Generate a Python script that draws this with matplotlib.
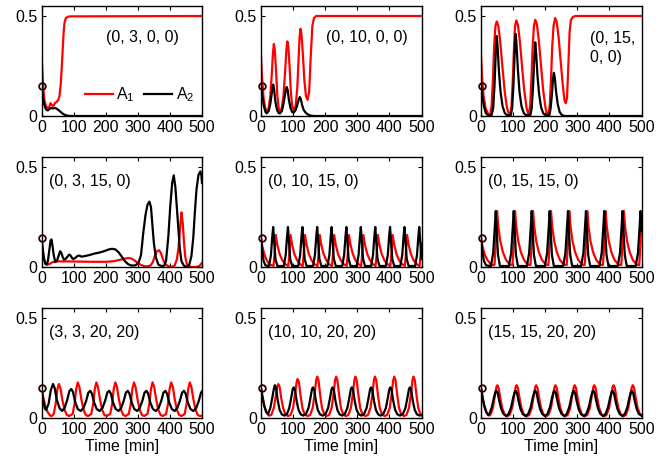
import matplotlib
matplotlib.use("Agg")
import matplotlib.pyplot as plt

plt.rcParams.update({
    "font.family": ["Liberation Sans", "DejaVu Sans"],
    "font.size": 11.5,
    "mathtext.default": "regular",
    "axes.linewidth": 1.0,
})

# ---------------- data: (time [min], value) ----------------
# panel 1: (0, 3, 0, 0)
P1_A1 = [(0, .30), (2, .25), (5, .15), (9, .08), (14, .05), (19, .04), (24, .045), (28, .064),
         (32, .055), (37, .05), (42, .065), (47, .07), (52, .08), (56, .10), (60, .16), (63, .24),
         (66, .33), (69, .42), (72, .47), (76, .49), (82, .496), (90, .498), (500, .50)]
P1_A2 = [(0, .152), (4, .10), (8, .06), (12, .04), (16, .03), (20, .028), (25, .035), (30, .04),
         (36, .038), (42, .04), (48, .036), (54, .028), (60, .02), (66, .012), (72, .006),
         (80, .002), (90, 0), (500, 0)]

# panel 2: (0, 10, 0, 0)
P2_A1 = [(0, .30), (3, .20), (8, .09), (13, .04), (18, .022), (24, .04), (29, .10), (34, .22),
         (37, .31), (40, .36), (43, .33), (47, .22), (51, .10), (55, .04), (59, .022), (65, .04),
         (70, .10), (75, .22), (79, .33), (82, .373), (85, .35), (89, .25), (93, .12), (97, .05),
         (102, .03), (108, .05), (113, .14), (117, .28), (120, .39), (123, .436), (126, .41),
         (130, .32), (135, .18), (140, .10), (145, .081), (150, .12), (155, .30), (160, .45),
         (165, .49), (172, .50), (500, .50)]
P2_A2 = [(0, .152), (4, .10), (9, .05), (14, .02), (18, .013), (24, .025), (29, .06), (34, .12),
         (38, .157), (41, .13), (45, .07), (50, .03), (55, .015), (59, .013), (65, .025), (70, .06),
         (75, .11), (80, .145), (83, .13), (87, .08), (92, .04), (97, .02), (102, .017), (108, .03),
         (113, .055), (118, .085), (121, .095), (124, .085), (128, .055), (133, .03), (140, .015),
         (147, .007), (155, .002), (165, 0), (500, 0)]

# panel 3: (0, 15, 0, 0)
P3_A1 = [(0, .30), (3, .20), (8, .10), (14, .04), (22, .01), (28, .005),
         (33, .05), (37, .18), (41, .35), (45, .45), (49, .473), (54, .45), (60, .37), (67, .24),
         (74, .12), (81, .04), (87, .01), (91, .005),
         (95, .05), (99, .18), (103, .35), (106, .45), (110, .478), (115, .455), (121, .375),
         (128, .245), (135, .125), (142, .04), (147, .01), (149, .005),
         (153, .05), (157, .18), (161, .35), (165, .45), (169, .481), (174, .46), (180, .38),
         (187, .25), (194, .125), (201, .04), (206, .01), (210, .005),
         (214, .05), (218, .18), (222, .35), (226, .45), (231, .49), (236, .47), (242, .39),
         (249, .26), (255, .15), (260, .08), (264, .064), (268, .09), (272, .25), (276, .42),
         (280, .48), (286, .495), (295, .50), (500, .50)]
P3_A2 = [(0, .152), (4, .10), (9, .05), (15, .015), (22, .003), (33, .005),
         (38, .04), (42, .15), (46, .32), (49, .40), (52, .34), (56, .22), (61, .12), (67, .05),
         (74, .015), (82, .003), (93, .005),
         (97, .04), (101, .15), (105, .32), (108, .41), (111, .35), (115, .23), (120, .12),
         (126, .05), (133, .015), (141, .003), (154, .005),
         (158, .04), (162, .14), (166, .29), (169, .368), (172, .31), (176, .20), (181, .11),
         (187, .045), (194, .013), (202, .003), (213, .005),
         (217, .04), (221, .11), (224, .18), (227, .216), (230, .19), (234, .12), (239, .06),
         (245, .02), (252, .005), (260, 0), (500, 0)]

# panel 4: (0, 3, 15, 0)
P4_A1 = [(0, .146), (3, .09), (7, .045), (12, .02), (18, .012), (25, .015), (35, .025),
         (50, .028), (80, .028), (120, .027), (160, .026), (200, .026), (225, .029), (245, .036),
         (260, .042), (271, .045), (280, .042), (290, .033), (300, .02), (310, .01), (320, .004),
         (330, .003), (340, .008), (347, .025), (353, .055), (360, .079), (366, .084), (372, .07),
         (378, .04), (385, .015), (395, .004), (405, 0), (415, .008), (422, .04), (427, .10),
         (432, .20), (436, .273), (440, .22), (444, .12), (448, .05), (453, .012), (465, 0),
         (480, 0), (492, .005), (500, .02)]
P4_A2 = [(0, .146), (4, .09), (8, .04), (12, .015), (16, .012), (20, .03), (24, .08), (28, .13),
         (31, .138), (34, .11), (38, .06), (43, .025), (48, .03), (53, .055), (58, .079), (62, .07),
         (66, .05), (70, .037), (75, .04), (80, .05), (86, .062), (90, .058), (95, .045), (99, .04),
         (105, .045), (112, .055), (118, .057), (124, .052), (130, .053), (136, .055), (150, .06),
         (165, .067), (180, .072), (195, .079), (210, .088), (220, .091), (230, .088), (240, .074),
         (250, .052), (260, .029), (270, .014), (281, .007), (292, .008), (302, .02), (310, .06),
         (317, .17), (324, .26), (330, .31), (336, .327), (341, .30), (346, .20), (350, .121),
         (356, .05), (364, .012), (375, .004), (383, .008), (388, .03), (395, .15), (401, .30),
         (407, .42), (412, .458), (417, .40), (422, .29), (426, .20), (431, .09), (436, .029),
         (443, .008), (451, 0), (460, .01), (467, .054), (473, .15), (478, .28), (483, .39),
         (489, .46), (495, .478), (498, .46), (500, .42)]

# panel 5: (0, 10, 15, 0)
P5_A1 = [(0, .146), (4, .105), (9, .07), (16, .04), (25, .015), (39, .005),
         (42, .06), (46, .16), (51, .11), (58, .065), (66, .035), (75, .015), (85, .005),
         (88, .06), (92, .16), (97, .11), (104, .065), (112, .035), (121, .015), (130, .005),
         (133, .06), (137, .16), (142, .11), (149, .065), (157, .035), (166, .015), (176, .005),
         (179, .06), (183, .16), (188, .11), (195, .065), (203, .035), (212, .015), (221, .005),
         (224, .06), (228, .16), (233, .11), (240, .065), (248, .035), (257, .015), (267, .005),
         (270, .06), (274, .16), (279, .11), (286, .065), (294, .035), (303, .015), (312, .005),
         (315, .06), (319, .16), (324, .11), (331, .065), (339, .035), (348, .015), (357, .005),
         (360, .06), (364, .16), (369, .11), (376, .065), (384, .035), (393, .015), (403, .005),
         (406, .06), (410, .16), (415, .11), (422, .065), (430, .035), (439, .015), (448, .005),
         (451, .06), (455, .16), (460, .11), (467, .065), (475, .035), (484, .015), (494, .005),
         (497, .06), (500, .12)]
P5_A2 = [(0, .146), (4, .08), (8, .03), (14, .008), (25, .005),
         (31, .06), (35, .15), (38, .20), (41, .13), (45, .04), (51, .005),
         (71, .005), (77, .06), (81, .15), (84, .20), (87, .13), (91, .04), (97, .005),
         (116, .005), (122, .06), (126, .15), (129, .20), (132, .13), (136, .04), (142, .005),
         (162, .005), (168, .06), (172, .15), (175, .20), (178, .13), (182, .04), (188, .005),
         (207, .005), (213, .06), (217, .15), (220, .20), (223, .13), (227, .04), (233, .005),
         (253, .005), (259, .06), (263, .15), (266, .20), (269, .13), (273, .04), (279, .005),
         (298, .005), (304, .06), (308, .15), (311, .20), (314, .13), (318, .04), (324, .005),
         (343, .005), (349, .06), (353, .15), (356, .20), (359, .13), (363, .04), (369, .005),
         (389, .005), (395, .06), (399, .15), (402, .20), (405, .13), (409, .04), (415, .005),
         (434, .005), (440, .06), (444, .15), (447, .20), (450, .13), (454, .04), (460, .005),
         (480, .005), (486, .06), (490, .15), (493, .20), (496, .13), (500, .04)]

# panel 6: (0, 15, 15, 0)
P6_A1 = [(0, .146), (5, .10), (12, .06), (20, .035), (30, .015), (40, .008),
         (42, .01), (46, .12), (50, .28), (54, .20), (60, .13), (68, .075), (78, .035), (90, .012),
         (98, .01), (102, .12), (106, .28), (110, .20), (116, .13), (124, .075), (134, .035), (146, .012),
         (154, .01), (158, .12), (162, .28), (166, .20), (172, .13), (180, .075), (190, .035), (202, .012),
         (210, .01), (214, .12), (218, .28), (222, .20), (228, .13), (236, .075), (246, .035), (258, .012),
         (267, .01), (271, .12), (275, .28), (279, .20), (285, .13), (293, .075), (303, .035), (315, .012),
         (323, .01), (327, .12), (331, .28), (335, .20), (341, .13), (349, .075), (359, .035), (371, .012),
         (380, .01), (384, .12), (388, .28), (392, .20), (398, .13), (406, .075), (416, .035), (428, .012),
         (437, .01), (441, .12), (445, .28), (449, .20), (455, .13), (463, .075), (473, .035), (485, .012),
         (493, .01), (497, .12), (500, .24)]
P6_A2 = [(0, .146), (4, .08), (9, .03), (16, .008), (31, .005),
         (38, .07), (43, .20), (46, .28), (49, .18), (53, .06), (59, .005),
         (87, .005), (94, .07), (99, .20), (102, .28), (105, .18), (109, .06), (115, .005),
         (143, .005), (150, .07), (155, .20), (158, .28), (161, .18), (165, .06), (171, .005),
         (199, .005), (206, .07), (211, .20), (214, .28), (217, .18), (221, .06), (227, .005),
         (256, .005), (263, .07), (268, .20), (271, .28), (274, .18), (278, .06), (284, .005),
         (312, .005), (319, .07), (324, .20), (327, .28), (330, .18), (334, .06), (340, .005),
         (369, .005), (376, .07), (381, .20), (384, .28), (387, .18), (391, .06), (397, .005),
         (426, .005), (433, .07), (438, .20), (441, .28), (444, .18), (448, .06), (454, .005),
         (482, .005), (489, .07), (494, .20), (497, .28), (500, .18)]

# panel 7: (3, 3, 20, 20)
P7_A1 = [(0, .15), (6, .10), (12, .06), (19, .03), (27, .012), (32, .01),
         (38, .02), (44, .07), (49, .14), (54, .17), (59, .15), (65, .09), (72, .04), (79, .015), (86, .01),
         (97, .02), (103, .07), (108, .145), (113, .178), (118, .155), (124, .095), (131, .04), (138, .015), (145, .01),
         (155, .02), (161, .07), (166, .145), (171, .178), (176, .155), (182, .095), (189, .04), (196, .015), (203, .01),
         (214, .02), (220, .07), (225, .145), (230, .178), (235, .155), (241, .095), (248, .04), (255, .015), (262, .01),
         (272, .02), (278, .07), (283, .145), (288, .178), (293, .155), (299, .095), (306, .04), (313, .015), (320, .01),
         (330, .02), (336, .07), (341, .145), (346, .178), (351, .155), (357, .095), (364, .04), (371, .015), (378, .01),
         (388, .02), (394, .07), (399, .145), (404, .178), (409, .155), (415, .095), (422, .04), (429, .015), (436, .01),
         (446, .02), (452, .07), (457, .145), (462, .178), (467, .155), (473, .095), (480, .04), (487, .015), (494, .01),
         (500, .012)]
P7_A2 = [(0, .15), (5, .09), (10, .05), (14, .04),
         (22, .07), (29, .14), (36, .17), (41, .15), (48, .09), (56, .05), (64, .035),
         (72, .05), (80, .09), (87, .135), (93, .145), (98, .13), (105, .08), (113, .045), (122, .035),
         (131, .05), (139, .085), (146, .127), (152, .136), (157, .122), (164, .077), (172, .045), (181, .035),
         (190, .05), (198, .085), (205, .127), (211, .136), (216, .122), (223, .077), (231, .045), (240, .035),
         (248, .05), (256, .085), (263, .127), (269, .136), (274, .122), (281, .077), (289, .045), (298, .035),
         (306, .05), (314, .085), (321, .127), (327, .136), (332, .122), (339, .077), (347, .045), (356, .035),
         (365, .05), (373, .085), (380, .127), (386, .136), (391, .122), (398, .077), (406, .045), (415, .035),
         (423, .05), (431, .085), (438, .127), (444, .136), (449, .122), (456, .077), (464, .045), (473, .035),
         (482, .05), (490, .085), (497, .127), (500, .133)]

# panel 8: (10, 10, 20, 20)
P8_A1 = [(0, .15), (5, .105), (10, .065), (17, .03), (24, .012), (32, .015),
         (40, .05), (46, .11), (51, .16), (54, .17), (58, .155), (63, .10), (69, .05), (76, .018), (84, .01),
         (92, .015), (100, .05), (106, .12), (111, .18), (114, .195), (118, .18), (123, .115), (129, .05), (136, .018), (145, .01),
         (153, .015), (161, .05), (167, .12), (172, .19), (175, .207), (179, .19), (184, .12), (190, .05), (197, .018), (204, .01),
         (212, .015), (220, .05), (226, .12), (231, .19), (234, .207), (238, .19), (243, .12), (249, .05), (256, .018), (264, .01),
         (272, .015), (280, .05), (286, .12), (291, .19), (294, .207), (298, .19), (303, .12), (309, .05), (316, .018), (325, .01),
         (333, .015), (341, .05), (347, .12), (352, .19), (355, .207), (359, .19), (364, .12), (370, .05), (377, .018), (385, .01),
         (393, .015), (401, .05), (407, .12), (412, .19), (415, .207), (419, .19), (424, .12), (430, .05), (437, .018), (445, .01),
         (453, .015), (461, .05), (467, .12), (472, .19), (475, .207), (479, .19), (484, .12), (490, .05), (497, .018), (500, .014)]
P8_A2 = [(0, .15), (5, .10), (10, .06), (16, .03), (22, .02),
         (29, .05), (35, .10), (40, .145), (43, .164), (47, .15), (52, .09), (58, .04), (65, .018), (73, .012),
         (81, .02), (88, .05), (94, .10), (99, .145), (102, .153), (106, .14), (111, .085), (117, .04), (124, .018), (132, .012),
         (140, .02), (148, .05), (154, .10), (159, .145), (162, .153), (166, .14), (171, .085), (177, .04), (184, .018), (192, .012),
         (201, .02), (209, .05), (215, .10), (220, .145), (223, .153), (227, .14), (232, .085), (238, .04), (245, .018), (253, .012),
         (261, .02), (269, .05), (275, .10), (280, .145), (283, .153), (287, .14), (292, .085), (298, .04), (305, .018), (313, .012),
         (321, .02), (329, .05), (335, .10), (340, .145), (343, .153), (347, .14), (352, .085), (358, .04), (365, .018), (373, .012),
         (381, .02), (389, .05), (395, .10), (400, .145), (403, .153), (407, .14), (412, .085), (418, .04), (425, .018), (433, .012),
         (442, .02), (450, .05), (456, .10), (461, .145), (464, .153), (468, .14), (473, .085), (479, .04), (486, .018), (494, .012),
         (500, .015)]

# panel 9: (15, 15, 20, 20)
P9_A1 = [(0, .15), (5, .105), (10, .065), (17, .03), (25, .012), (29, .015),
         (37, .05), (43, .11), (48, .155), (51, .164), (55, .15), (60, .10), (66, .05), (73, .02), (81, .008),
         (89, .015), (97, .05), (103, .11), (108, .155), (111, .164), (115, .15), (120, .10), (126, .05), (133, .02), (142, .008),
         (150, .015), (158, .05), (164, .11), (169, .155), (172, .164), (176, .15), (181, .10), (187, .05), (194, .02), (202, .008),
         (210, .015), (218, .05), (224, .11), (229, .155), (232, .164), (236, .15), (241, .10), (247, .05), (254, .02), (262, .008),
         (270, .015), (278, .05), (284, .11), (289, .155), (292, .164), (296, .15), (301, .10), (307, .05), (314, .02), (323, .008),
         (331, .015), (339, .05), (345, .11), (350, .155), (353, .164), (357, .15), (362, .10), (368, .05), (375, .02), (383, .008),
         (391, .015), (399, .05), (405, .11), (410, .155), (413, .164), (417, .15), (422, .10), (428, .05), (435, .02), (443, .008),
         (451, .015), (459, .05), (465, .11), (470, .155), (473, .164), (477, .15), (482, .10), (488, .05), (495, .02), (500, .012)]
P9_A2 = [(0, .15), (5, .10), (10, .06), (16, .03), (22, .015),
         (26, .02), (34, .055), (40, .10), (45, .13), (48, .136), (52, .125), (57, .085), (63, .045), (70, .02), (78, .01),
         (86, .02), (94, .055), (100, .10), (105, .13), (108, .136), (112, .125), (117, .085), (123, .045), (130, .02), (139, .01),
         (147, .02), (155, .055), (161, .10), (166, .13), (169, .136), (173, .125), (178, .085), (184, .045), (191, .02), (199, .01),
         (207, .02), (215, .055), (221, .10), (226, .13), (229, .136), (233, .125), (238, .085), (244, .045), (251, .02), (259, .01),
         (267, .02), (275, .055), (281, .10), (286, .13), (289, .136), (293, .125), (298, .085), (304, .045), (311, .02), (320, .01),
         (328, .02), (336, .055), (342, .10), (347, .13), (350, .136), (354, .125), (359, .085), (365, .045), (372, .02), (380, .01),
         (388, .02), (396, .055), (402, .10), (407, .13), (410, .136), (414, .125), (419, .085), (425, .045), (432, .02), (440, .01),
         (448, .02), (456, .055), (462, .10), (467, .13), (470, .136), (474, .125), (479, .085), (485, .045), (492, .02), (500, .012)]

PANEL_LABELS = ["(0, 3, 0, 0)", "(0, 10, 0, 0)", "(0, 15,\n0, 0)",
                "(0, 3, 15, 0)", "(0, 10, 15, 0)", "(0, 15, 15, 0)",
                "(3, 3, 20, 20)", "(10, 10, 20, 20)", "(15, 15, 20, 20)"]
A1_SERIES = [P1_A1, P2_A1, P3_A1, P4_A1, P5_A1, P6_A1, P7_A1, P8_A1, P9_A1]
A2_SERIES = [P1_A2, P2_A2, P3_A2, P4_A2, P5_A2, P6_A2, P7_A2, P8_A2, P9_A2]
START_VALUES = [0.152, 0.152, 0.152, 0.146, 0.146, 0.146, 0.15, 0.15, 0.15]
X_TICKS = [0, 100, 200, 300, 400, 500]
Y_TICKS = [0, 0.5]
Y_TICK_LABELS = ["0", "0.5"]

# ---------------- layout (pixel boxes measured on the 669x462 figure) ----------------
W, H = 669, 462
col_left = [41.5, 261, 481]
row_bottom = [116, 267, 418]
ax_w, ax_h = 160.5, 110

fig = plt.figure(figsize=(W / 100, H / 100), dpi=100)

label_pos = [(0.40, 0.71), (0.405, 0.71), (0.68, 0.62)] + [(0.045, 0.78)] * 6

for i in range(9):
    r, c = divmod(i, 3)
    ax = fig.add_axes([col_left[c] / W, 1 - row_bottom[r] / H, ax_w / W, ax_h / H])

    t1, v1 = zip(*A1_SERIES[i])
    t2, v2 = zip(*A2_SERIES[i])
    l1, = ax.plot(t1, v1, color="#ff0000", lw=1.6, label="$A_1$")
    l2, = ax.plot(t2, v2, color="black", lw=1.6, label="$A_2$")
    ax.plot([2], [START_VALUES[i]], marker="o", ms=4.8, mfc="none", mec="#2a0000",
            mew=1.3, clip_on=False, zorder=5)

    ax.set_xlim(0, 500)
    ax.set_ylim(0, 0.55)
    ax.set_xticks(X_TICKS)
    ax.set_yticks(Y_TICKS)
    ax.set_yticklabels(Y_TICK_LABELS)
    ax.tick_params(direction="in", length=3, top=True, right=True, labelsize=11.5, pad=3)

    lx, ly = label_pos[i]
    ax.text(lx, ly, PANEL_LABELS[i], transform=ax.transAxes, fontsize=11.5,
            ha="left", va="center", linespacing=1.3)

    if r == 2:
        ax.set_xlabel("Time [min]", fontsize=11.5, labelpad=1)

    if i == 0:
        ax.legend(handles=[l1, l2], loc="lower right", bbox_to_anchor=(1.01, 0.02),
                  ncol=2, frameon=False, handlelength=1.75, handletextpad=0.2,
                  columnspacing=0.6, fontsize=11.5, borderaxespad=0.2)

fig.savefig("out.png", dpi=100)
